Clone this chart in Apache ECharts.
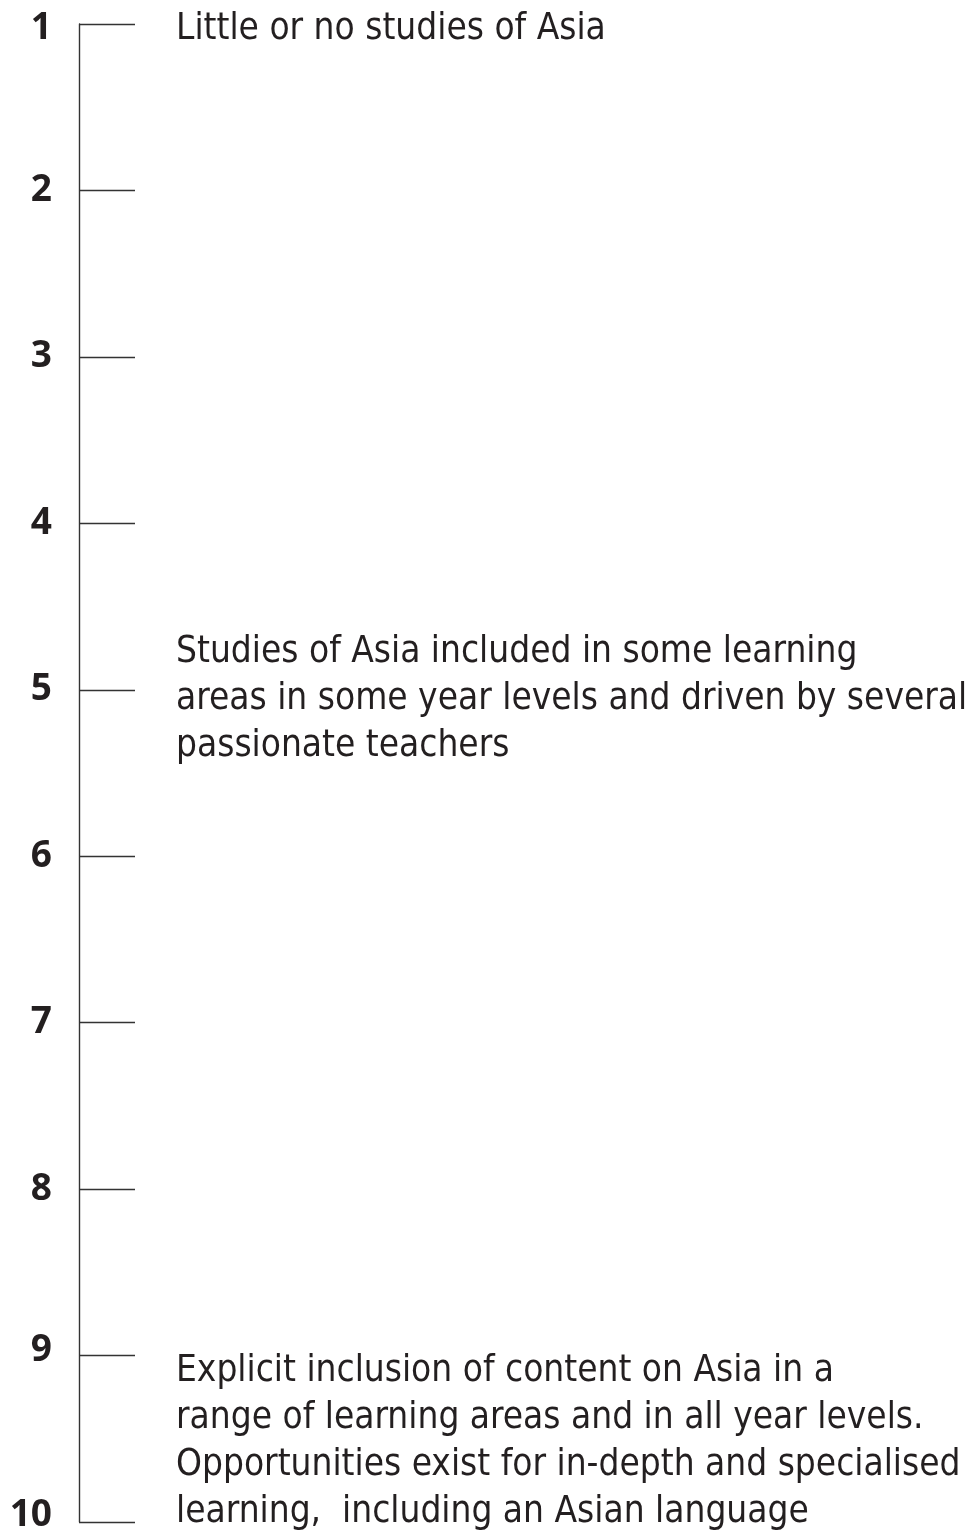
<!DOCTYPE html>
<html>
<head>
<meta charset="utf-8">
<script src="https://cdn.jsdelivr.net/npm/echarts@6/dist/echarts.min.js"></script>
<style>
html,body{margin:0;padding:0;background:#fff;}
#chart{width:974px;height:1533px;}
</style>
</head>
<body>
<div id="chart"></div>
<script>
// Scale levels shown on the axis
const levels = [1, 2, 3, 4, 5, 6, 7, 8, 9, 10];
// Descriptive annotations and the scale position they are centred on
const annotationTexts = [
  'Little or no studies of Asia',
  'Studies of Asia included in some learning\nareas in some year levels and driven by several\npassionate teachers',
  'Explicit inclusion of content on Asia in a\nrange of learning areas and in all year levels.\nOpportunities exist for in-depth and specialised\nlearning,  including an Asian language'
];
const annotationLevels = [1.03, 5.06, 9.52];

const chart = echarts.init(document.getElementById('chart'), null, {renderer: 'canvas'});
const textColor = '#231f20';
const labelFont = {color: textColor, fontFamily: 'Open Sans', fontWeight: 'bold', fontSize: 37};
chart.setOption({
  animation: false,
  backgroundColor: '#ffffff',
  grid: {left: 79, right: 0, top: 24, bottom: 11, containLabel: false, outerBoundsMode: 'none'},
  xAxis: {type: 'value', min: 0, max: 1, show: false},
  yAxis: {
    type: 'value', inverse: true, min: 1, max: 10, interval: 1,
    axisLine: {show: true, lineStyle: {color: '#333333', width: 1.4}},
    axisTick: {show: true, inside: true, length: 56, lineStyle: {color: '#333333', width: 1.4}},
    splitLine: {show: false},
    axisLabel: {
      show: true, margin: 27, ...labelFont,
      hideOverlap: false, showMinLabel: true, showMaxLabel: true,
      formatter: function (v) {
        if (levels.indexOf(v) < 0) return '';
        if (v === 10) return '{up14|' + v + '}';
        if (v === 9) return '{up10|' + v + '}';
        if (v === 1) return '{dn8|' + v + '}';
        return String(v);
      },
      rich: {
        up14: {...labelFont, padding: [0, 0, 14, 0]},
        up10: {...labelFont, padding: [0, 0, 10, 0]},
        dn8: {...labelFont, padding: [8, 0, 0, 0]}
      }
    }
  },
  series: [{
    type: 'scatter',
    symbolSize: 0,
    silent: true,
    itemStyle: {opacity: 1},
    data: annotationTexts.map((t, i) => ({value: [0, annotationLevels[i]], name: t})),
    label: {
      show: true, position: 'right', distance: 0, offset: [97, 0],
      formatter: p => p.name,
      color: textColor, opacity: 1,
      fontFamily: "'DejaVu Sans Condensed', sans-serif",
      fontSize: 36.7, lineHeight: 47, align: 'left', verticalAlign: 'middle'
    }
  }]
});
</script>
</body>
</html>
